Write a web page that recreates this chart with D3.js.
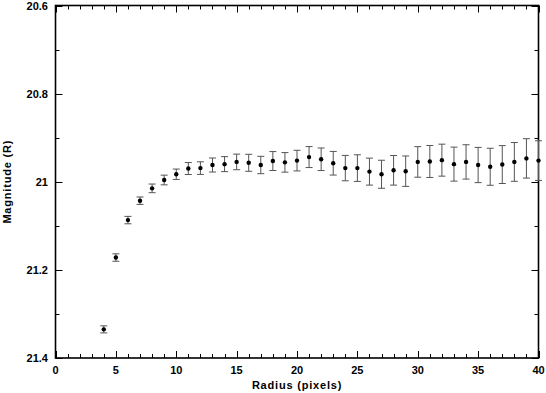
<!DOCTYPE html>
<html><head><meta charset="utf-8">
<script src="https://cdn.jsdelivr.net/npm/d3@7"></script>
<style>
body{margin:0;background:#fff;}
text{font-family:"Liberation Sans",Arial,sans-serif;font-weight:bold;fill:#000;}
</style></head>
<body><svg id="c" width="546" height="393"></svg>
<script>
const radius = [4,5,6,7,8,9,10,11,12,13,14,15,16,17,18,19,20,21,22,23,24,25,26,27,28,29,30,31,32,33,34,35,36,37,38,39,40];
const magnitude = [21.335,21.172,21.087,21.043,21.015,20.996,20.983,20.970,20.969,20.962,20.960,20.955,20.957,20.962,20.953,20.956,20.952,20.944,20.949,20.958,20.969,20.969,20.977,20.983,20.974,20.976,20.955,20.954,20.951,20.960,20.955,20.962,20.966,20.961,20.955,20.947,20.952];
const magErr = [0.008,0.0084,0.0084,0.0084,0.0098,0.011,0.0118,0.0136,0.0143,0.0159,0.017,0.0177,0.0193,0.0197,0.0215,0.0222,0.0234,0.0238,0.0256,0.0268,0.0288,0.0302,0.0306,0.0318,0.0336,0.0345,0.0347,0.0363,0.0363,0.0386,0.039,0.040,0.042,0.043,0.044,0.0447,0.045];
const xTicks = [0,5,10,15,20,25,30,35,40];
const yTicks = [20.6,20.8,21,21.2,21.4];

const L=55.5,R=538.5,T=5.5,B=358;
const svg=d3.select("#c");
const x=d3.scaleLinear().domain([0,40]).range([L,R]);
const y=d3.scaleLinear().domain([20.6,21.4]).range([T,B]);

const g=svg.append("g");
// minor/major ticks on all sides
const xMinor=d3.range(0,41,1), yMinor=d3.range(0,9).map(i=>+(20.6+i*0.1).toFixed(1));
function isMajorX(v){return v%5===0;}
function isMajorY(v){return Math.abs(Math.round(v*5)-v*5)<1e-6;}
const tk=g.append("g").attr("stroke","#000").attr("stroke-width",1);
xMinor.forEach(v=>{
  const len=isMajorX(v)?7:4;
  tk.append("line").attr("x1",Math.round(x(v))+0.5).attr("x2",Math.round(x(v))+0.5).attr("y1",B).attr("y2",B-len);
  tk.append("line").attr("x1",Math.round(x(v))+0.5).attr("x2",Math.round(x(v))+0.5).attr("y1",T).attr("y2",T+len);
});
yMinor.forEach(v=>{
  const len=isMajorY(v)?7:4;
  tk.append("line").attr("y1",Math.round(y(v))+0.5).attr("y2",Math.round(y(v))+0.5).attr("x1",L).attr("x2",L+len);
  tk.append("line").attr("y1",Math.round(y(v))+0.5).attr("y2",Math.round(y(v))+0.5).attr("x1",R).attr("x2",R-len);
});
// frame
g.append("rect").attr("x",L).attr("y",T).attr("width",R-L).attr("height",B-T)
 .attr("fill","none").attr("stroke","#000").attr("stroke-width",1.6);

// tick labels
g.selectAll(".xl").data(xTicks).enter().append("text")
 .attr("x",d=>x(d)).attr("y",374).attr("text-anchor","middle").attr("font-size",11).text(d=>d);
g.selectAll(".yl").data(yTicks).enter().append("text")
 .attr("x",48).attr("y",d=>y(d)+4).attr("text-anchor","end").attr("font-size",11).text(d=>d);

// axis titles
g.append("text").attr("x",(L+R)/2).attr("y",389).attr("text-anchor","middle")
 .attr("font-size",11).attr("letter-spacing",0.8).text("Radius (pixels)");
g.append("text").attr("transform",`translate(11,${(T+B)/2}) rotate(-90)`).attr("text-anchor","middle")
 .attr("font-size",11).attr("letter-spacing",0.8).text("Magnitude (R)");

// error bars
const data=radius.map((r,i)=>({r,m:magnitude[i],e:magErr[i]}));
const eb=g.append("g").attr("stroke","#555").attr("stroke-width",1);
data.forEach(d=>{
  const cx=x(d.r), y1=y(d.m-d.e), y2=y(d.m+d.e);
  eb.append("line").attr("x1",cx).attr("x2",cx).attr("y1",y1).attr("y2",y2);
  eb.append("line").attr("x1",cx-3.5).attr("x2",cx+3.5).attr("y1",y1).attr("y2",y1);
  eb.append("line").attr("x1",cx-3.5).attr("x2",cx+3.5).attr("y1",y2).attr("y2",y2);
});
g.selectAll(".pt").data(data).enter().append("circle")
 .attr("cx",d=>x(d.r)).attr("cy",d=>y(d.m)).attr("r",2.2).attr("fill","#000");
</script></body></html>
